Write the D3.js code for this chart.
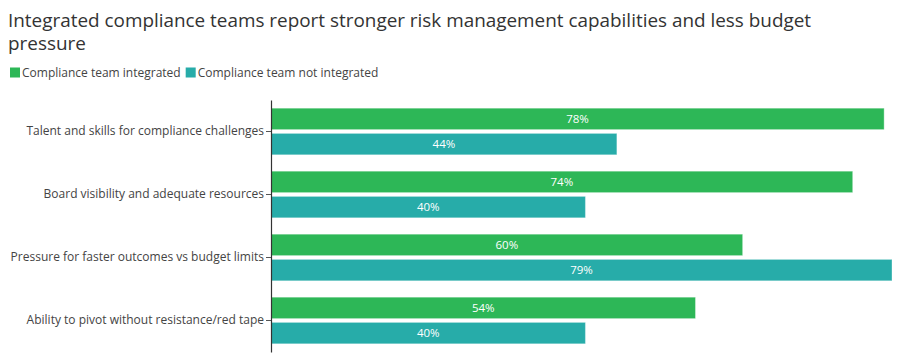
<!DOCTYPE html>
<html><head><meta charset="utf-8">
<script src="https://cdn.jsdelivr.net/npm/d3@7"></script>
<style>
html,body{margin:0;padding:0;background:#fff;}
svg{display:block;font-family:"Open Sans","Noto Sans",sans-serif;}
</style></head>
<body><svg id="chart" width="904" height="358"></svg>
<script>
const titleText = "Integrated compliance teams report stronger risk management capabilities and less budget pressure";
const categories = [
  "Talent and skills for compliance challenges",
  "Board visibility and adequate resources",
  "Pressure for faster outcomes vs budget limits",
  "Ability to pivot without resistance/red tape"
];
const seriesNames = ["Compliance team integrated", "Compliance team not integrated"];
const integrated = [78, 74, 60, 54];
const notIntegrated = [44, 40, 79, 40];
const colors = ["#2db757", "#27aca9"];

const svg = d3.select("#chart");
const W = 904, H = 358;
const m = {top: 100, right: 12, bottom: 6, left: 271};

// title with wrapping
const title = svg.append("text").attr("x", 8).attr("y", 27)
  .attr("fill", "#333").style("font-size", "18.9px");
(function wrap(){
  const words = titleText.split(" ");
  let line = [];
  let tspan = title.append("tspan").attr("x", 8).attr("dy", 0);
  for (const w of words) {
    line.push(w);
    tspan.text(line.join(" "));
    if (tspan.node().getComputedTextLength() > 860 && line.length > 1) {
      line.pop(); tspan.text(line.join(" "));
      line = [w];
      tspan = title.append("tspan").attr("x", 8).attr("dy", 23).text(w);
    }
  }
})();

// legend
const leg = svg.append("g").attr("transform", "translate(10,67.5)");
let lx = 0;
seriesNames.forEach((s, i) => {
  const g = leg.append("g").attr("transform", `translate(${lx},0)`);
  g.append("rect").attr("width", 10).attr("height", 10).attr("fill", colors[i]);
  const t = g.append("text").attr("x", 12).attr("y", 9.5).attr("fill", "#444")
    .style("font-size", "12px").text(s);
  lx += 12 + t.node().getComputedTextLength() + 5;
});

const y0 = d3.scaleBand().domain(categories).range([m.top, H - m.bottom])
  .paddingInner(0.26).paddingOuter(0.13);
const y1 = d3.scaleBand().domain(seriesNames).range([0, y0.bandwidth()]).paddingInner(0.15);
const x = d3.scaleLinear().domain([0, d3.max(integrated.concat(notIntegrated))])
  .range([m.left, W - m.right]);

const rows = categories.map((c, i) => ({c, vals: [integrated[i], notIntegrated[i]]}));
const groups = svg.append("g").selectAll("g").data(rows).join("g")
  .attr("transform", d => `translate(0,${y0(d.c)})`);

groups.selectAll("rect").data(d => d.vals.map((v, i) => ({v, s: seriesNames[i], i})))
  .join("rect")
  .attr("x", x(0))
  .attr("y", d => y1(d.s))
  .attr("width", d => x(d.v) - x(0))
  .attr("height", y1.bandwidth())
  .attr("fill", d => colors[d.i])
  .attr("stroke", "rgba(255,255,255,0.35)")
  .attr("stroke-width", 1);

groups.selectAll("text.val").data(d => d.vals.map((v, i) => ({v, s: seriesNames[i], i})))
  .join("text").attr("class", "val")
  .attr("x", d => (x(0) + x(d.v)) / 2)
  .attr("y", d => y1(d.s) + y1.bandwidth() / 2)
  .attr("dy", "0.35em")
  .attr("text-anchor", "middle")
  .attr("fill", "#fff")
  .style("font-size", "11.5px")
  .text(d => d.v + "%");

const ax = svg.append("g").attr("transform", `translate(${m.left},0)`)
  .call(d3.axisLeft(y0).tickSize(5).tickSizeOuter(0));
ax.select(".domain").attr("stroke", "#333").attr("stroke-width", 1.2);
ax.selectAll(".tick line").attr("stroke", "#555");
ax.selectAll(".tick text").attr("fill", "#444").style("font-size", "12px")
  .style("font-family", "'Open Sans','Noto Sans',sans-serif").attr("x", -7);
</script></body></html>
